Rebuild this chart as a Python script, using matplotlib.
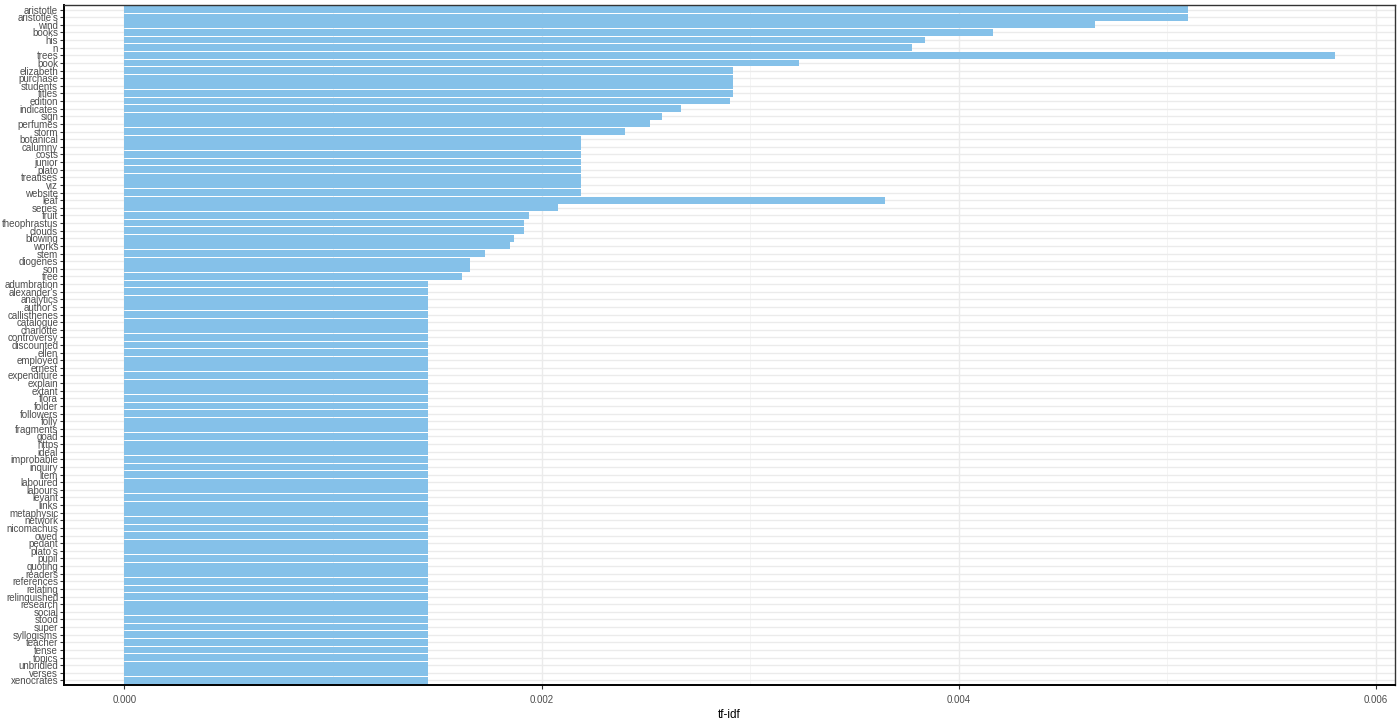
import numpy as np
import matplotlib
matplotlib.use('Agg')
import matplotlib.pyplot as plt
from matplotlib.ticker import MultipleLocator, FormatStrFormatter

plt.rcParams['font.family'] = ['Liberation Sans', 'DejaVu Sans']

words = ["aristotle", "aristotle's", "wind", "books", "his", "n", "trees", "book",
         "elizabeth", "purchase", "students", "titles", "edition", "indicates", "sign",
         "perfumes", "storm", "botanical", "calumny", "costs", "junior", "plato",
         "treatises", "viz", "website", "leaf", "series", "fruit", "theophrastus",
         "clouds", "blowing", "works", "stem", "diogenes", "son", "tree",
         "adumbration", "alexander's", "analytics", "author's", "callisthenes",
         "catalogue", "charlotte", "controversy", "discounted", "ellen", "employed",
         "ernest", "expenditure", "explain", "extant", "flora", "folder", "followers",
         "folly", "fragments", "goad", "https", "ideal", "improbable", "inquiry",
         "item", "laboured", "labours", "levant", "links", "metaphysic", "network",
         "nicomachus", "owed", "pedant", "plato's", "pupil", "quoting", "readers",
         "references", "relating", "relinquished", "research", "social", "stood",
         "super", "syllogisms", "teacher", "tense", "topics", "unbridled", "verses",
         "xenocrates"]

top_vals = [0.005098, 0.005098, 0.004652, 0.004163, 0.003837, 0.003779, 0.005803,
            0.003233, 0.002916, 0.002916, 0.002916, 0.002916, 0.002906, 0.002667,
            0.002576, 0.002518, 0.002398, 0.002187, 0.002187, 0.002187, 0.002187,
            0.002187, 0.002187, 0.002187, 0.002187, 0.003645, 0.002077, 0.001938,
            0.001918, 0.001918, 0.001866, 0.001851, 0.001731, 0.001659, 0.001659,
            0.001621]
rest_val = 0.001458
tfidf = top_vals + [rest_val] * (len(words) - len(top_vals))

fig = plt.figure(figsize=(14, 7.2), dpi=100)
ax = fig.add_axes([64/1400, 35/720, (1395-64)/1400, (685-5)/720])

y = np.arange(len(words))
ax.barh(y, tfidf, height=0.9, color='#85C1E9', zorder=2)

ax.set_ylim(len(words) - 1 + 0.6, -0.6)
ax.set_xlim(-0.00029, 0.006093)
ax.set_yticks(y)
ax.set_yticklabels(words)
ax.xaxis.set_major_locator(MultipleLocator(0.002))
ax.xaxis.set_minor_locator(MultipleLocator(0.001))
ax.xaxis.set_major_formatter(FormatStrFormatter('%.3f'))

ax.grid(True, which='major', color='#EBEBEB', lw=1.0, zorder=0)
ax.grid(True, which='minor', axis='x', color='#F2F2F2', lw=0.6, zorder=0)
ax.set_axisbelow(True)

for s in ax.spines.values():
    s.set_color('#333333')
    s.set_linewidth(1.0)
ax.spines['left'].set_linewidth(1.4)
ax.spines['bottom'].set_linewidth(1.4)
ax.spines['left'].set_color('black')
ax.spines['bottom'].set_color('black')

ax.tick_params(axis='both', which='major', labelsize=7.0, labelcolor='#4D4D4D',
               color='#333333', length=3.0, width=0.8, pad=1.2)
ax.tick_params(axis='x', which='minor', length=0)
ax.tick_params(axis='x', pad=4)

ax.set_xlabel('tf-idf', fontsize=8.5, color='black', labelpad=3)

fig.savefig('out.png', dpi=100)
